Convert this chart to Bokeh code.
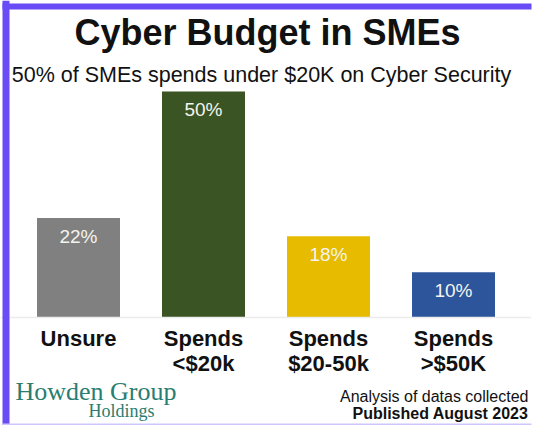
from bokeh.plotting import figure
from bokeh.models import FactorRange, Range1d, Label, BoxAnnotation, Span, ColumnDataSource
from bokeh.core.properties import value
from bokeh.embed import file_html
from bokeh.resources import INLINE

# ---- data ----
categories = ["Unsure", "Spends\n<$20k", "Spends\n$20-50k", "Spends\n>$50K"]
values = [22, 50, 18, 10]
value_labels = ["22%", "50%", "18%", "10%"]
colors = ["#808080", "#3b5424", "#e6bb00", "#2d559c"]

title = "Cyber Budget in SMEs"
subtitle = "50% of SMEs spends under $20K on Cyber Security"
logo_1 = "Howden Group"
logo_2 = "Holdings"
note_1 = "Analysis of datas collected"
note_2 = "Published August 2023"

# ---- layout helpers (canvas pixel -> data) ----
W, H = 541, 425
RIGHT_PAD = 10
PAD = 0.124
PX_X = (W - RIGHT_PAD) / (len(categories) + 2 * PAD)
BASE_Y = 317
PX_Y = 4.52

def dx(cx):
    return -PAD + cx / PX_X

def dy(cy):
    return (BASE_Y - cy) / PX_Y

p = figure(
    width=W, height=H,
    x_range=FactorRange(*categories, range_padding=PAD, range_padding_units="absolute"),
    y_range=Range1d(dy(H), dy(0)),
    output_backend="svg", toolbar_location=None,
    x_axis_location=None, y_axis_location=None,
    min_border_left=0, min_border_right=RIGHT_PAD, min_border_top=0, min_border_bottom=0,
)
p.outline_line_color = None
p.xgrid.visible = False
p.ygrid.visible = False
p.background_fill_color = "white"
p.border_fill_color = "white"

src = ColumnDataSource(dict(cat=categories, val=values, lab=value_labels, col=colors))

# baseline
p.add_layout(Span(location=0, dimension="width", line_color="#ececec", line_width=1.5))

p.vbar(x="cat", top="val", width=0.664, source=src, fill_color="col", line_color=None)

p.text(x="cat", y="val", text="lab", source=src, y_offset=18,
       text_align="center", text_baseline="middle", text_color="#f4f4ee",
       text_font=value("Liberation Sans"), text_font_size="19px")

p.text(x="cat", y=0, text="cat", source=src, y_offset=8,
       text_align="center", text_baseline="top", text_color="#111111",
       text_font=value("Liberation Sans"), text_font_size="22px", text_font_style="bold",
       text_line_height=1.0)

def add_label(txt, cx, base_y, size, style="normal", align="center", color="#111111", font="Liberation Sans"):
    # Label places the alphabetic baseline ~0.36em below its anchor
    p.add_layout(Label(x=dx(cx), y=dy(base_y - 0.36 * size), text=txt, text_font=font,
                       text_font_size=f"{size}px", text_font_style=style, text_align=align,
                       text_baseline="alphabetic", text_color=color))

add_label(title, 267, 45, 36, "bold")
add_label(subtitle, 261, 82, 21.5)
add_label(note_1, 528, 402, 16, align="right")
add_label(note_2, 528, 419, 16, "bold", align="right")
add_label(logo_1, 15, 400, 26, align="left", color="#2a7d70", font="Liberation Serif")
add_label(logo_2, 88, 417, 18, align="left", color="#2a7d70", font="Liberation Serif")

# purple frame border (left and top)
purple = "#6a4cf6"
p.add_layout(BoxAnnotation(left=dx(2), right=dx(9), fill_color=purple, fill_alpha=1, line_color=None))
p.add_layout(BoxAnnotation(left=dx(2), right=dx(W), bottom=dy(9), top=dy(3), fill_color=purple, fill_alpha=1, line_color=None))
p.add_layout(BoxAnnotation(left=dx(2), right=dx(W), bottom=dy(425), top=dy(423), fill_color="#cfc6fb", fill_alpha=1, line_color=None))

open("out.html", "w").write(file_html(p, INLINE))
